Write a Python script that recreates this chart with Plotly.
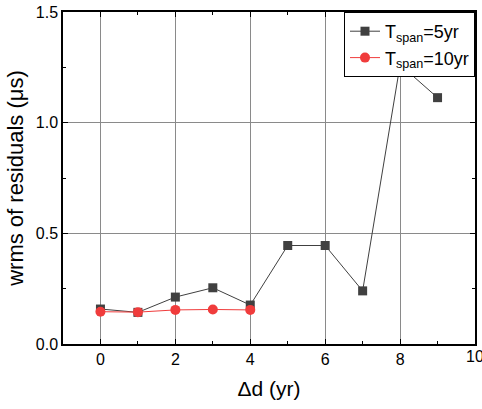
import plotly.graph_objects as go

x5 = [0, 1, 2, 3, 4, 5, 6, 7, 8, 9]
y5 = [0.158, 0.143, 0.212, 0.254, 0.176, 0.445, 0.445, 0.240, 1.262, 1.113]
x10 = [0, 1, 2, 3, 4]
y10 = [0.146, 0.144, 0.154, 0.156, 0.154]
xticks = [0, 2, 4, 6, 8]

fig = go.Figure()
fig.add_trace(go.Scatter(x=x5, y=y5, mode="lines+markers", name="T<sub>span</sub>=5yr",
                         line=dict(color="#404040", width=1),
                         marker=dict(symbol="square", size=9, color="#404040")))
fig.add_trace(go.Scatter(x=x10, y=y10, mode="lines+markers", name="T<sub>span</sub>=10yr",
                         line=dict(color="#f03c3c", width=1),
                         marker=dict(symbol="circle", size=10, color="#f03c3c")))

axis_common = dict(showline=True, linecolor="black", linewidth=1.5, mirror="allticks",
                   ticks="inside", ticklen=5, tickwidth=1.2, tickcolor="black",
                   showgrid=True, gridcolor="#8a8a8a", gridwidth=1, zeroline=False,
                   automargin=False,
                   tickfont=dict(family="Liberation Sans, Arial", size=16, color="black"))

fig.update_xaxes(range=[-1, 10], tickvals=xticks + [10], ticktext=[str(v) for v in xticks] + [""],
                 minor=dict(ticks="inside", ticklen=3, tickcolor="black", dtick=1, tick0=0, showgrid=False),
                 title=dict(text="Δd (yr)", font=dict(family="Liberation Sans, Arial", size=21, color="black"), standoff=14),
                 **axis_common)
fig.update_yaxes(range=[0, 1.5], tickvals=[0, 0.5, 1.0, 1.5], ticktext=["0.0", "0.5", "1.0", "1.5"],
                 minor=dict(ticks="inside", ticklen=3, tickcolor="black", dtick=0.25, tick0=0, showgrid=False),
                 title=dict(text="wrms of residuals (μs)", font=dict(family="Liberation Sans, Arial", size=22, color="black"), standoff=6),
                 **axis_common)

fig.add_annotation(x=10, xref="x", y=0, yref="paper", yanchor="top", yshift=-2,
                   text="10", showarrow=False,
                   font=dict(family="Liberation Sans, Arial", size=16, color="black"))

fig.update_layout(width=482, height=409, margin=dict(l=63, r=7, t=12, b=65),
                  plot_bgcolor="white", paper_bgcolor="white",
                  font=dict(family="Liberation Sans, Arial", color="black"),
                  legend=dict(x=1, y=1, xanchor="right", yanchor="top",
                              bordercolor="black", borderwidth=1, bgcolor="white",
                              font=dict(size=18, family="Liberation Sans, Arial"),
                              tracegroupgap=0, itemwidth=30))

fig.write_html("out.html")
